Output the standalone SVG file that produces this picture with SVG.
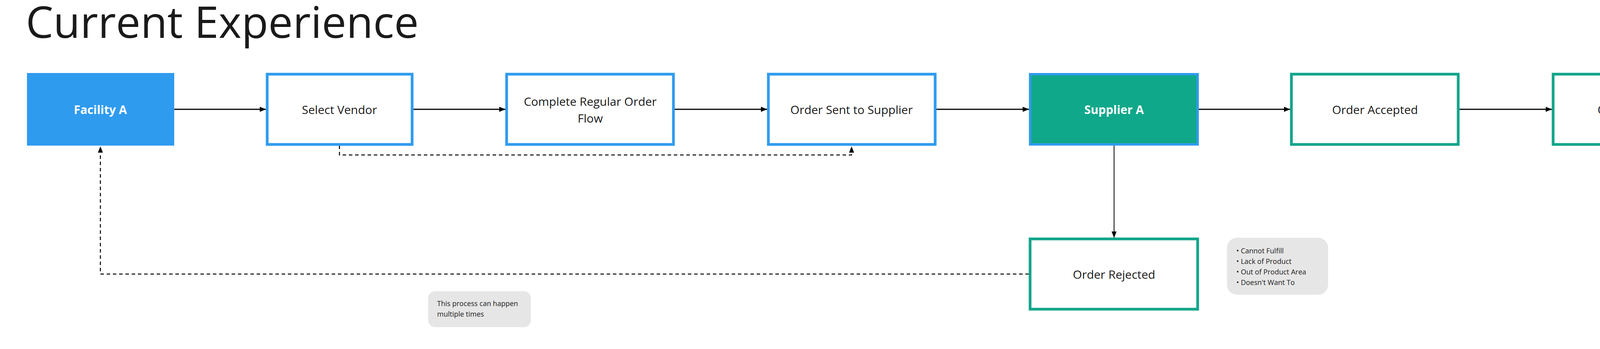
<svg xmlns="http://www.w3.org/2000/svg" width="4469" height="894" viewBox="0 0 4469 894">
<defs>
<marker id="ah" viewBox="0 0 10 10" refX="10" refY="5" markerWidth="8" markerHeight="8" markerUnits="userSpaceOnUse" orient="auto"><path d="M0,0 L10,5 L0,10 z" fill="#000"/></marker>
<marker id="ahb" viewBox="0 0 10 10" refX="10" refY="5" markerWidth="16" markerHeight="16" markerUnits="userSpaceOnUse" orient="auto"><path d="M0,1 L10,5 L0,9 z" fill="#000"/></marker>
</defs>
<style>
text{font-family:"Open Sans","Noto Sans",sans-serif;fill:#1a1a1a}
.lbl{font-size:30px;text-anchor:middle;dominant-baseline:central}
.bold{font-weight:bold;fill:#fff}
.blue{fill:#fff;stroke:#2f9bef;stroke-width:7}
.green{fill:#fff;stroke:#12a58a;stroke-width:7}
.c{fill:none;stroke:#000;stroke-width:3}
.d{fill:none;stroke:#000;stroke-width:2.5;stroke-dasharray:9 7}
.note{fill:#e6e6e6}
.nt{font-size:18px}
</style>
<text x="66" y="97" font-size="112">Current Experience</text>
<g id="connectors">
<line class="c" x1="446" y1="280" x2="681" y2="280" marker-end="url(#ahb)"/>
<line class="c" x1="1058" y1="280" x2="1294" y2="280" marker-end="url(#ahb)"/>
<line class="c" x1="1727" y1="280" x2="1964" y2="280" marker-end="url(#ahb)"/>
<line class="c" x1="2397" y1="280" x2="2634" y2="280" marker-end="url(#ahb)"/>
<line class="c" x1="3069" y1="280" x2="3303" y2="280" marker-end="url(#ahb)"/>
<line class="c" x1="3736" y1="280" x2="3973" y2="280" marker-end="url(#ahb)"/>
<line x1="2852" y1="373" x2="2852" y2="609" stroke="#000" stroke-width="2" marker-end="url(#ahb)"/>
<path class="d" d="M869,373 V397 H2180 V375" marker-end="url(#ahb)"/>
<path class="d" d="M2634,702 H257 V375" marker-end="url(#ahb)"/>
</g>
<g id="facility"><rect x="69" y="187" width="377" height="186" fill="#2f9bef"/><text class="lbl bold" x="257" y="280">Facility A</text></g>
<g id="select"><rect class="blue" x="684" y="190" width="371" height="180"/><text class="lbl" x="869" y="280">Select Vendor</text></g>
<g id="complete"><rect class="blue" x="1297" y="190" width="427" height="180"/><text class="lbl" x="1511" y="259">Complete Regular Order</text><text class="lbl" x="1511" y="302">Flow</text></g>
<g id="sent"><rect class="blue" x="1967" y="190" width="427" height="180"/><text class="lbl" x="2180" y="280">Order Sent to Supplier</text></g>
<g id="supplier"><rect x="2637" y="190" width="429" height="180" fill="#0fa88a" stroke="#2f9bef" stroke-width="6"/><text class="lbl bold" x="2852" y="280">Supplier A</text></g>
<g id="accepted"><rect class="green" x="3306" y="190" width="427" height="180"/><text class="lbl" x="3520" y="280">Order Accepted</text></g>
<g id="fulfilled"><rect class="green" x="3976" y="190" width="427" height="180"/><text class="lbl" x="4190" y="280">Order Fulfilled</text></g>
<g id="rejected"><rect class="green" x="2637" y="612" width="429" height="180"/><text class="lbl" x="2852" y="702">Order Rejected</text></g>
<g id="note1"><rect class="note" x="1096" y="746" width="263" height="92" rx="18"/><text class="nt" x="1119" y="784">This process can happen</text><text class="nt" x="1119" y="811">multiple times</text></g>
<g id="note2"><rect class="note" x="3141" y="609" width="259" height="146" rx="26"/>
<text class="nt" x="3165" y="649">•  Cannot Fulfill</text>
<text class="nt" x="3165" y="676">•  Lack of Product</text>
<text class="nt" x="3165" y="703">•  Out of Product Area</text>
<text class="nt" x="3165" y="730">•  Doesn't Want To</text></g>
</svg>
